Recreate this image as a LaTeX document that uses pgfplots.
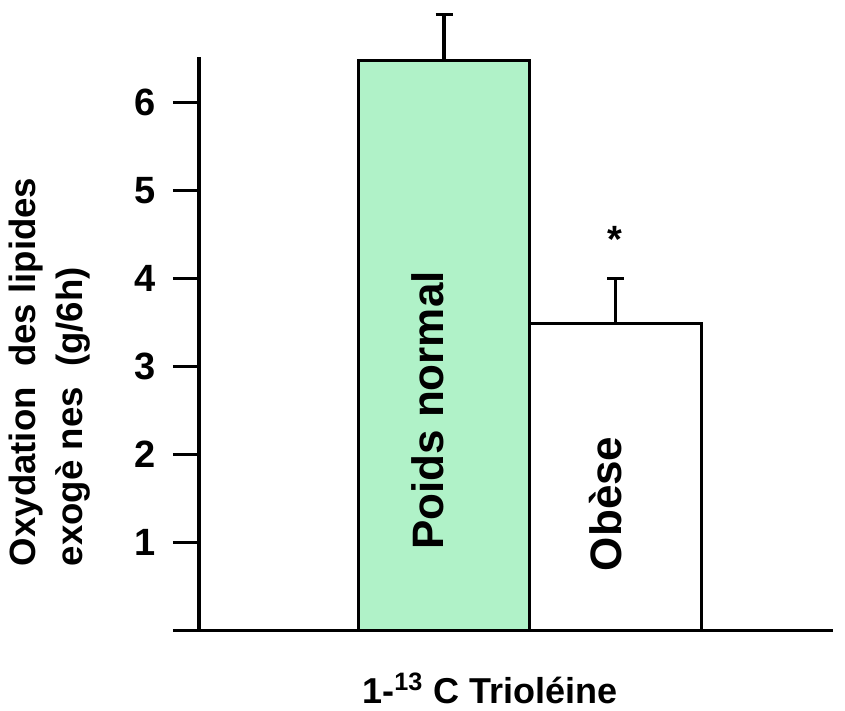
\documentclass[border=0pt]{standalone}
\usepackage{pgfplots}
\pgfplotsset{compat=1.18}
\usepackage{fontspec}
\setmainfont{Liberation Sans}
\definecolor{mint}{RGB}{176,242,200}
\begin{document}
\begin{tikzpicture}
\begin{axis}[
  name=ax,
  scale only axis,
  width=330pt, height=286.5pt,
  xmin=-26, xmax=634, ymin=0, ymax=6.515,
  axis x line*=bottom, axis y line*=middle,
  xtick=\empty,
  ytick={1,...,6},
  tick align=outside,
  major tick length=13pt,
  every tick/.style={black, line width=1.5pt},
  axis line style={black, line width=1.5pt},
  every inner y axis line/.append style={black, line width=1.6pt},
  every outer x axis line/.append style={black, line width=1.6pt},
  yticklabel style={font=\fontsize{19}{19}\selectfont\bfseries, xshift=-5pt},
  /pgf/number format/assume math mode=true,
  clip=false,
  ybar, bar width=171.5, bar shift=0pt,
]
\addplot[fill=mint, draw=black, line width=1.5pt,
  error bars/.cd, y dir=plus, y explicit,
  error bar style={line width=1.6pt},
  error mark options={rotate=90, mark size=4.25pt, line width=1.6pt}]
  coordinates {(245,6.48) +- (0,0.52)};
\addplot[fill=white, draw=black, line width=1.5pt,
  error bars/.cd, y dir=plus, y explicit,
  error bar style={line width=1.6pt},
  error mark options={rotate=90, mark size=4.25pt, line width=1.6pt}]
  coordinates {(416.5,3.49) +- (0,0.51)};
% labels inside the bars
\node[rotate=90, font=\fontsize{22}{22}\selectfont\bfseries] at (axis cs:229,2.50) {Poids normal};
\node[rotate=90, font=\fontsize{22}{22}\selectfont\bfseries] at (axis cs:407,1.44) {Obèse};
% significance marker
\node[anchor=base, inner sep=0pt, font=\fontsize{19}{19}\selectfont\bfseries] at (axis cs:416,4.30) {*};
% axis titles
\node[anchor=base, inner sep=0pt, font=\fontsize{18}{18}\selectfont\bfseries] at (axis cs:291,0) [yshift=-36.25pt] {1-\textsuperscript{13} C Trioléine};
\node[rotate=90, align=left, font=\fontsize{18.3}{23.5}\selectfont\bfseries] at (axis cs:-149,2.94) {Oxydation\ \ des lipides\\exogè nes\ \ (g/6h)};
\end{axis}
\pgfresetboundingbox
\path[use as bounding box] ([shift={(-86.5pt,-40.25pt)}]ax.south west) rectangle ++(422.5pt,355.5pt);
\end{tikzpicture}
\end{document}
